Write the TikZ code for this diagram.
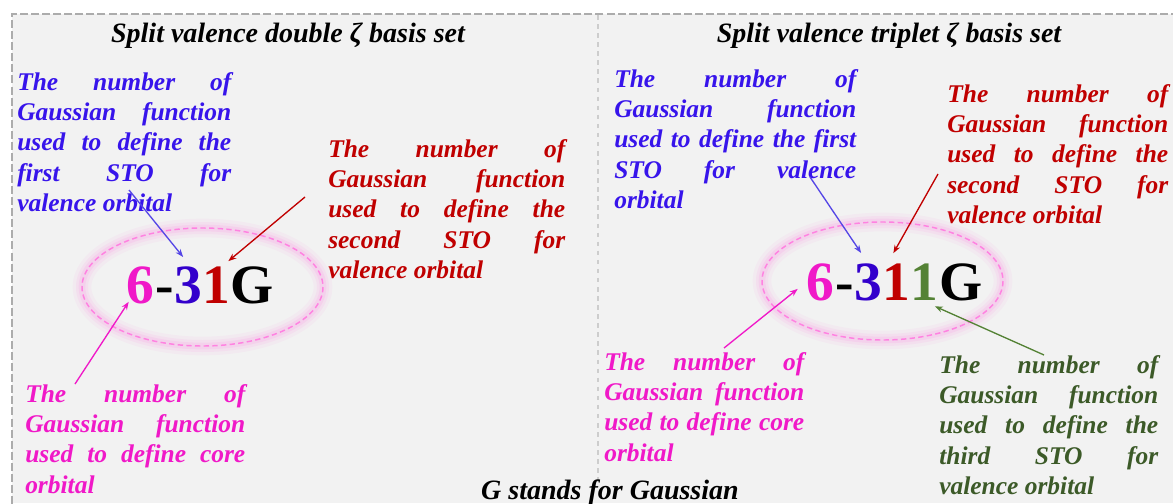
\documentclass[tikz,border=0pt]{standalone}
\usepackage{fontspec}
\setmainfont{Liberation Serif}
\usetikzlibrary{arrows.meta,positioning}
\definecolor{panel}{RGB}{242,242,242}
\definecolor{frame}{RGB}{172,172,172}
\definecolor{split}{RGB}{205,205,205}
\definecolor{zblue}{RGB}{55,20,235}
\definecolor{zbluedig}{RGB}{51,0,204}
\definecolor{zbluearr}{RGB}{85,70,230}
\definecolor{zred}{RGB}{192,0,0}
\definecolor{zpink}{RGB}{240,25,200}
\definecolor{zgreen}{RGB}{60,90,40}
\definecolor{zgreendig}{RGB}{84,130,53}
\definecolor{halo}{RGB}{255,130,225}
\newlength{\pxu}\setlength{\pxu}{0.75pt}
\newcommand{\jrow}[2]{\makebox[#1\pxu][s]{#2}}

\begin{document}
\begin{tikzpicture}[x=0.75pt, y=-0.75pt, >={Stealth[length=6pt,width=4.5pt]},
    lbl/.style={anchor=base west, inner sep=0pt, align=left,
        font=\fontsize{19.1pt}{22.8pt}\selectfont\bfseries\itshape},
    ttl/.style={anchor=base, inner sep=0pt,
        font=\fontsize{21pt}{25pt}\selectfont\bfseries\itshape},
    dig/.style={inner sep=0pt, font=\fontsize{41.6pt}{50pt}\selectfont\bfseries},
    ptr/.style={->, line width=1pt},
    ring/.style={halo, line width=1.1pt, dash pattern=on 4pt off 2.5pt}]
    \useasboundingbox (0,0) rectangle (1173,503);
    \fill[white] (0,0) rectangle (1173,503);
    \fill[panel] (12,14) rectangle (1173,503);
    \draw[frame, line width=1.9pt, dash pattern=on 6pt off 2.3pt] (1190,14) -- (12,14) -- (12,520);
    \draw[split, line width=1.1pt, dash pattern=on 3.4pt off 3.4pt] (598,15) -- (598,482);

    % titles
    \node[ttl] (ttlL) at (288,43) {Split valence double ζ basis set};
    \node[ttl] (ttlR) at (889,43) {Split valence triplet ζ basis set};
    \node[ttl] (gnote) at (610,499) {G stands for Gaussian};

    % glow round the names
    \foreach \cx/\cy in {202.5/287, 882.5/281} {
        \foreach \w/\o in {14/0.07, 9/0.1, 5/0.15}
            \draw[halo, line width=\w pt, opacity=\o] (\cx,\cy) ellipse [x radius=120.5, y radius=59];
        \draw[ring] (\cx,\cy) ellipse [x radius=120.5, y radius=59];
    }

    % 6-31G
    \node[dig, anchor=base west, text=zpink] (a6) at (126.7,303) {6};
    \node[dig, base right=0pt of a6] (adash) {-};
    \node[dig, base right=0pt of adash, text=zbluedig] (a3) {3};
    \node[dig, base right=0pt of a3, text=zred] (a1) {1};
    \node[dig, base right=0pt of a1] (aG) {G};

    % 6-311G
    \node[dig, anchor=base west, text=zpink] (b6) at (806.7,300) {6};
    \node[dig, base right=0pt of b6] (bdash) {-};
    \node[dig, base right=0pt of bdash, text=zbluedig] (b3) {3};
    \node[dig, base right=0pt of b3, text=zred] (b1) {1};
    \node[dig, base right=0pt of b1, text=zgreendig] (bb1) {1};
    \node[dig, base right=0pt of bb1] (bG) {G};

    % labels, left panel (placed by the baseline of their last line)
    \node[lbl, text=zblue] (firstL) at (17,211.6) {\jrow{214}{The number of}\\ \jrow{214}{Gaussian function}\\
        \jrow{214}{used to define the}\\ \jrow{214}{first STO for}\\ valence orbital};
    \node[lbl, text=zred] (secondL) at (328,278.6) {\jrow{237}{The number of}\\ \jrow{237}{Gaussian function}\\
        \jrow{237}{used to define the}\\ \jrow{237}{second STO for}\\ valence orbital};
    \node[lbl, text=zpink] (coreL) at (25,493.2) {\jrow{220}{The number of}\\ \jrow{220}{Gaussian function}\\
        \jrow{220}{used to define core}\\ orbital};

    % labels, right panel
    \node[lbl, text=zblue] (firstR) at (614,208.6) {\jrow{242}{The number of}\\ \jrow{242}{Gaussian function}\\
        \jrow{242}{used to define the first}\\ \jrow{242}{STO for valence}\\ orbital};
    \node[lbl, text=zred] (secondR) at (947,223.6) {\jrow{221}{The number of}\\ \jrow{221}{Gaussian function}\\
        \jrow{221}{used to define the}\\ \jrow{221}{second STO for}\\ valence orbital};
    \node[lbl, text=zpink] (coreR) at (604,461.2) {\jrow{200}{The number of}\\ \jrow{200}{Gaussian function}\\
        \jrow{200}{used to define core}\\ orbital};
    \node[lbl, text=zgreen] (thirdR) at (939,494.6) {\jrow{219}{The number of}\\ \jrow{219}{Gaussian function}\\
        \jrow{219}{used to define the}\\ \jrow{219}{third STO for}\\ valence orbital};

    % arrow feet
    \coordinate (firstLf) at (129,190);
    \coordinate (secondLf) at (305,197);
    \coordinate (coreLf) at (75,384);
    \coordinate (firstRf) at (810,177);
    \coordinate (secondRf) at (938,174);
    \coordinate (coreRf) at (724,348);
    \coordinate (thirdRf) at (1044,355);

    \draw[ptr, zbluearr] (firstLf) -- ([shift={(-5,-9)}]a3.north);
    \draw[ptr, zred] (secondLf) -- ([shift={(12,-5)}]a1.north);
    \draw[ptr, zpink] (coreLf) -- ([shift={(2,-2)}]a6.south west);
    \draw[ptr, zbluearr] (firstRf) -- ([shift={(-7,-10)}]b3.north);
    \draw[ptr, zred] (secondRf) -- ([shift={(-3,-10)}]b1.north);
    \draw[ptr, zpink] (coreRf) -- ([shift={(-9,7)}]b6.west);
    \draw[ptr, zgreendig] (thirdRf) -- ([shift={(-4,6)}]bb1.south east);
\end{tikzpicture}
\end{document}
